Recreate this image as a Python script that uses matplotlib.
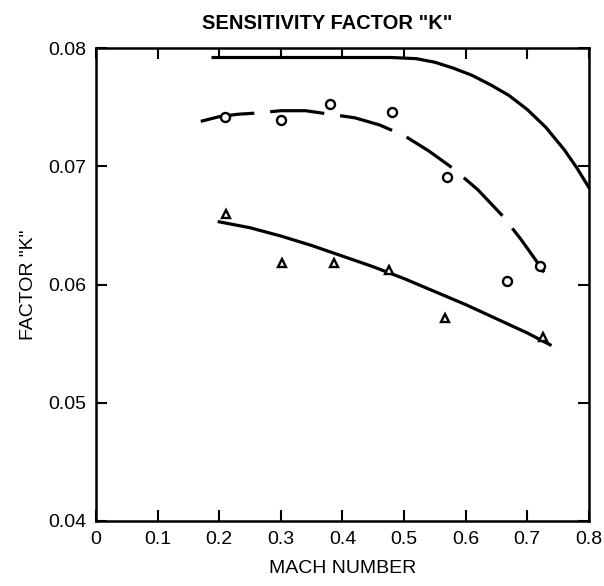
import numpy as np
import matplotlib.pyplot as plt

# data
circ_x = [0.21, 0.30, 0.38, 0.48, 0.57, 0.667, 0.721]
circ_y = [0.0742, 0.0739, 0.0753, 0.0746, 0.0691, 0.0603, 0.0616]

tri_x = [0.211, 0.302, 0.386, 0.476, 0.567, 0.725]
tri_y = [0.0660, 0.0618, 0.0618, 0.0612, 0.0572, 0.0556]

top_x = [0.19, 0.30, 0.40, 0.48, 0.52, 0.55, 0.58, 0.61, 0.64, 0.67, 0.70, 0.73, 0.76, 0.78, 0.80]
top_y = [0.0792, 0.0792, 0.0792, 0.0792, 0.0791, 0.0788, 0.0783, 0.0777, 0.0769,
         0.0760, 0.0748, 0.0733, 0.0714, 0.0699, 0.0682]

dash_x = [0.17, 0.20, 0.23, 0.26, 0.30, 0.34, 0.38, 0.42, 0.46, 0.50, 0.54, 0.58,
          0.62, 0.66, 0.69, 0.72, 0.736]
dash_y = [0.0738, 0.0742, 0.0744, 0.0745, 0.0747, 0.0747, 0.0744, 0.0741, 0.0735,
          0.0726, 0.0713, 0.0698, 0.0680, 0.0658, 0.0638, 0.0616, 0.0603]

low_x = [0.20, 0.25, 0.30, 0.35, 0.40, 0.45, 0.50, 0.55, 0.60, 0.65, 0.70, 0.737]
low_y = [0.0653, 0.0648, 0.0641, 0.0633, 0.0624, 0.0615, 0.0605, 0.0594, 0.0583, 0.0571, 0.0559, 0.0549]

xticks = [0, 0.1, 0.2, 0.3, 0.4, 0.5, 0.6, 0.7, 0.8]
xlabels = ['0', '0.1', '0.2', '0.3', '0.4', '0.5', '0.6', '0.7', '0.8']
yticks = [0.04, 0.05, 0.06, 0.07, 0.08]
ylabels = ['0.04', '0.05', '0.06', '0.07', '0.08']

plt.rcParams['font.family'] = ['Liberation Sans', 'DejaVu Sans']

fig = plt.figure(figsize=(6.04, 5.86), dpi=100)
ax = fig.add_axes([0.159, 0.111, 0.816, 0.807])

ax.plot(top_x, top_y, color='black', lw=2.3, solid_joinstyle='round')
ax.plot(dash_x, dash_y, color='black', lw=2.3, dashes=(17, 5), dash_capstyle='butt',
        dash_joinstyle='round')
ax.plot(low_x, low_y, color='black', lw=2.3, solid_joinstyle='round')

ax.plot(circ_x, circ_y, 'o', ms=6.5, mfc='white', mec='black', mew=1.7, ls='none')
ax.plot(tri_x, tri_y, '^', ms=6, mfc='white', mec='black', mew=1.7, ls='none')

ax.set_xlim(0, 0.8)
ax.set_ylim(0.04, 0.08)
ax.set_xticks(xticks)
ax.set_xticklabels(xlabels)
ax.set_yticks(yticks)
ax.set_yticklabels(ylabels)
ax.tick_params(direction='in', length=8, width=1.5, top=True, right=True,
               labelsize=14, pad=7)
for s in ax.spines.values():
    s.set_linewidth(1.8)

ax.set_title('SENSITIVITY FACTOR "K"', fontsize=14.5, fontweight='bold', x=0.47, pad=14)
ax.set_xlabel('MACH NUMBER', fontsize=14, labelpad=9)
ax.set_ylabel('FACTOR "K"', fontsize=14, labelpad=8)

fig.savefig('out.png', dpi=100)
